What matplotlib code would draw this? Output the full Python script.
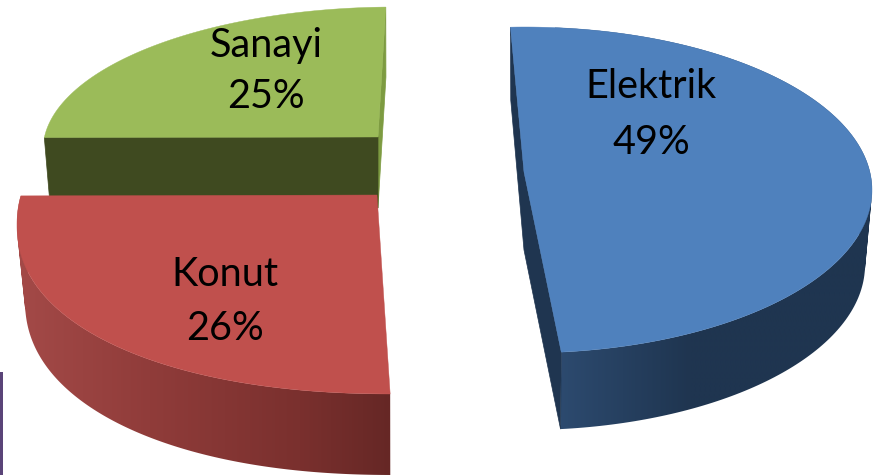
import numpy as np
import matplotlib
matplotlib.use('Agg')
import matplotlib.pyplot as plt
from matplotlib.colors import LinearSegmentedColormap
from matplotlib.patches import PathPatch, Rectangle
from matplotlib.path import Path

categories = ['Elektrik', 'Konut', 'Sanayi']
shares = [49, 26, 25]

plt.rcParams['font.family'] = ['Lato', 'DejaVu Sans']

# the picture is a squashed 3d pie, so every slice gets its own ellipses
# top = (cx, cy, a, b), bottom = same for the lower rim
layout = {
    'Elektrik': dict(top=(525, 190, 347, 163), bottom=(525, 265, 340, 165), power=1.0,
                     start=92.4, turn=-1.0, stretch=1.0, apex=(524, 172), apex_low=(524, 250),
                     face='#4f81bd', cut='#1f3550', side_x=[555, 690, 875],
                     side_c=['#2d4b70', '#1f3550', '#1f3550'], label=(651, 87, 142)),
    'Konut': dict(top=(395, 225, 378, 169), bottom=(395, 300, 370, 175), power=0.92,
                  start=171.5, turn=1.0, stretch=1.047, apex=(377, 195), apex_low=(377, 270),
                  face='#c0504d', cut='#632523', side_x=[15, 150, 300, 395],
                  side_c=['#a44a48', '#903c3a', '#7a302e', '#652725'], label=(225, 275, 328)),
    'Sanayi': dict(top=(395, 150, 352, 143), bottom=(395, 220, 346, 143), power=1.0,
                   start=91.5, turn=1.0, stretch=0.928, apex=(378, 137), apex_low=(378, 208),
                   face='#9bbb59', cut='#3f4a20', side_x=None,
                   side_c=None, label=(266, 45, 97)),
}
draw_order = ['Sanayi', 'Konut', 'Elektrik']


def rim(ell, power, deg):
    cx, cy, a, b = ell
    t = np.radians(deg)
    x = cx + a * np.sign(np.cos(t)) * np.abs(np.cos(t)) ** power
    y = cy - b * np.sign(np.sin(t)) * np.abs(np.sin(t)) ** power
    return x, y


def wall_path(xt, yt, xb, yb):
    # all strips between the two rims, wound the same way so they add up
    paths = []
    for i in range(len(xt) - 1):
        q = np.array([[xt[i], yt[i]], [xt[i + 1], yt[i + 1]], [xb[i + 1], yb[i + 1]], [xb[i], yb[i]]])
        x, y = q[:, 0], q[:, 1]
        if np.dot(x, np.roll(y, -1)) - np.dot(y, np.roll(x, -1)) < 0:
            q = q[::-1]
        paths.append(Path(np.r_[q, q[:1]], closed=True))
    return Path.make_compound_path(*paths)


fig = plt.figure(figsize=(8.75, 4.75), dpi=100)
ax = fig.add_axes([0, 0, 1, 1])

# bit of another shape cut off at the lower left
ax.add_patch(Rectangle((0, 372), 3, 103, color='#5a4478', lw=0))

for name in draw_order:
    s = layout[name]
    share = shares[categories.index(name)]
    sweep = share * 3.6 * s['stretch'] * s['turn']
    deg = np.linspace(s['start'], s['start'] + sweep, 181)
    xt, yt = rim(s['top'], s['power'], deg)
    xb, yb = rim(s['bottom'], s['power'], deg)

    # cut faces
    if name == 'Sanayi':
        ax.fill([xt[0], s['apex'][0], s['apex_low'][0], xb[0]],
                [yt[0], s['apex'][1], s['apex_low'][1], yb[0]],
                color='#7d9b41', lw=0.5)
        ax.fill([xt[-1], s['apex'][0], s['apex_low'][0], xb[-1]],
                [yt[-1], s['apex'][1], s['apex_low'][1], yb[-1]],
                color=s['cut'], lw=0.5)
    elif name == 'Elektrik':
        ax.fill([xt[0], s['apex'][0], xt[-1], xb[-1], s['apex_low'][0], xb[0]],
                [yt[0], s['apex'][1], yt[-1], yb[-1], s['apex_low'][1], yb[0]],
                color=s['cut'], lw=0.5)

    # outer wall, horizontal gradient clipped to the wall shape
    if s['side_x']:
        x0, x1 = s['side_x'][0], s['side_x'][-1]
        stops = [(x - x0) / (x1 - x0) for x in s['side_x']]
        cmap = LinearSegmentedColormap.from_list(name, list(zip(stops, s['side_c'])))
        wall = PathPatch(wall_path(xt, yt, xb, yb), transform=ax.transData, fc='none', ec='none')
        ax.add_patch(wall)
        grad = ax.imshow(np.linspace(0, 1, 256)[None, :], cmap=cmap, aspect='auto',
                         extent=(x0, x1, 475, 0), interpolation='bilinear')
        grad.set_clip_path(wall)

    ax.fill(np.r_[xt, s['apex'][0]], np.r_[yt, s['apex'][1]], color=s['face'], lw=0.3)

for name, share in zip(categories, shares):
    lx, y1, y2 = layout[name]['label']
    ax.text(lx, y1, name, fontsize=28.5, color='black', ha='center', va='center')
    ax.text(lx, y2, f'{share}%', fontsize=28.5, color='black', ha='center', va='center')

ax.set_xlim(0, 875)
ax.set_ylim(475, 0)
ax.axis('off')

fig.savefig('out.png', dpi=100)
